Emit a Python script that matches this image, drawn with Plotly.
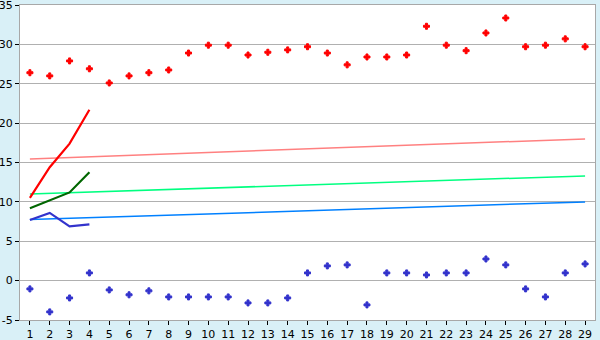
import plotly.graph_objects as go

days = list(range(1, 30))
red_pts = [26.4, 26.0, 27.9, 26.9, 25.1, 26.0, 26.4, 26.75, 28.9, 29.9,
           29.9, 28.65, 29.0, 29.3, 29.7, 28.9, 27.4, 28.4, 28.4, 28.65,
           32.3, 29.9, 29.2, 31.45, 33.35, 29.7, 29.9, 30.7, 29.7]
blue_pts = [-1.05, -3.97, -2.2, 0.98, -1.18, -1.8, -1.3, -2.07, -2.07, -2.07,
            -2.07, -2.83, -2.83, -2.2, 0.98, 1.87, 2.0, -3.08, 0.98, 0.98,
            0.72, 0.98, 0.98, 2.75, 2.0, -1.05, -2.07, 0.98, 2.12]
line_days = [1, 2, 3, 4]
red_line = [10.5, 14.4, 17.4, 21.7]
green_line = [9.2, 10.15, 11.2, 13.75]
blue_line = [7.7, 8.6, 6.9, 7.15]
trend_days = [1, 29]
pink_trend = [15.45, 18.0]
green_trend = [11.0, 13.3]
blue_trend = [7.75, 10.0]
y_ticks = [-5, 0, 5, 10, 15, 20, 25, 30, 35]
y_tick_labels = ["-5", "0", "5", "10", "15", "20", "25", "30", "35"]

fig = go.Figure()
fig.add_trace(go.Scatter(x=trend_days, y=pink_trend, mode="lines",
                         line=dict(color="#FF8080", width=1.5)))
fig.add_trace(go.Scatter(x=trend_days, y=green_trend, mode="lines",
                         line=dict(color="#00FF80", width=1.5)))
fig.add_trace(go.Scatter(x=trend_days, y=blue_trend, mode="lines",
                         line=dict(color="#0080FF", width=1.5)))
fig.add_trace(go.Scatter(x=line_days, y=red_line, mode="lines",
                         line=dict(color="#FF0000", width=2.2)))
fig.add_trace(go.Scatter(x=line_days, y=green_line, mode="lines",
                         line=dict(color="#006600", width=2.2)))
fig.add_trace(go.Scatter(x=line_days, y=blue_line, mode="lines",
                         line=dict(color="#3333CC", width=2.2)))
fig.add_trace(go.Scatter(x=days, y=red_pts, mode="markers",
                         marker=dict(symbol="cross", size=5, color="#FF0000",
                                     line=dict(width=1, color="#FF0000"))))
fig.add_trace(go.Scatter(x=days, y=blue_pts, mode="markers",
                         marker=dict(symbol="cross", size=5, color="#3333CC",
                                     line=dict(width=1, color="#3333CC"))))

fig.update_layout(
    width=600, height=340,
    margin=dict(l=20, r=5, t=5, b=20),
    paper_bgcolor="#D9F0F7",
    plot_bgcolor="#FFFFFF",
    showlegend=False,
    font=dict(family="DejaVu Sans", size=11, color="#000000"),
)
fig.update_xaxes(range=[0.5, 29.5], tickvals=days, ticks="outside", ticklen=4,
                 tickcolor="#000000", showgrid=False, zeroline=False,
                 automargin=False, ticklabeloverflow="allow",
                 showline=True, mirror=True, linecolor="#A8A8A8", linewidth=1)
fig.update_yaxes(range=[-5, 35], tickvals=y_ticks, ticktext=y_tick_labels,
                 ticks="outside", ticklen=4, ticklabeloverflow="allow",
                 tickcolor="#000000", showgrid=True, gridcolor="#B0B0B0",
                 gridwidth=1, zeroline=False, automargin=False,
                 showline=True, mirror=True, linecolor="#A8A8A8", linewidth=1)

fig.write_html("out.html")
